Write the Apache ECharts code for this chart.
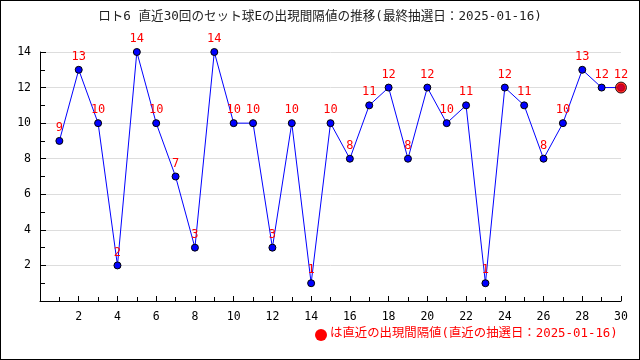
<!DOCTYPE html>
<html><head><meta charset="utf-8">
<script src="https://cdn.jsdelivr.net/npm/echarts@6/dist/echarts.min.js"></script>
<style>html,body{margin:0;padding:0;background:#fff}#c{width:638px;height:358px;border:1px solid #000}</style>
</head><body><div id="c"></div>
<script>
const titleText = 'ロト6 直近30回のセット球Eの出現間隔値の推移(最終抽選日：2025-01-16)';
const footText = 'は直近の出現間隔値(直近の抽選日：2025-01-16)';
const draws = [1,2,3,4,5,6,7,8,9,10,11,12,13,14,15,16,17,18,19,20,21,22,23,24,25,26,27,28,29,30];
const intervals = [9,13,10,2,14,10,7,3,14,10,10,3,10,1,10,8,11,12,8,12,10,11,1,12,11,8,10,13,12,12];

const font = '"DejaVu Sans Mono", "Noto Sans CJK JP", monospace';
const pts = draws.map((d,i)=>[d, intervals[i]]);
const last = pts[pts.length-1];

const chart = echarts.init(document.getElementById('c'));
chart.setOption({
  animation:false,
  title:{text:titleText,left:'center',top:4,textStyle:{fontFamily:font,fontSize:12.6,fontWeight:'normal',color:'#222'}},
  grid:{left:39,right:18,top:51,bottom:58},
  xAxis:{type:'value',min:0,max:30,interval:2,
    axisLine:{lineStyle:{color:'#000'}},
    axisTick:{inside:true,length:5,lineStyle:{color:'#000'}},
    minorTick:{show:true,splitNumber:2,length:4,lineStyle:{color:'#000'}},
    axisLabel:{fontFamily:font,fontSize:11.5,color:'#000',margin:10,formatter:v=>v===0?'':v},
    splitLine:{show:false}},
  yAxis:{type:'value',min:0,max:14,interval:2,
    axisLine:{show:true,lineStyle:{color:'#000'}},
    axisTick:{show:true,inside:true,length:6,lineStyle:{color:'#000'}},
    minorTick:{show:true,splitNumber:2,length:5,lineStyle:{color:'#000'}},
    axisLabel:{fontFamily:font,fontSize:11.5,color:'#000',margin:9,formatter:v=>v===0?'':v},
    splitLine:{show:true,lineStyle:{color:'#ddd'}}},
  series:[
    {type:'line',data:pts,symbol:'circle',symbolSize:7,
      lineStyle:{color:'#0000ff',width:1},
      itemStyle:{color:'#0000ff',borderColor:'#000',borderWidth:1},
      label:{show:true,position:'top',distance:3,color:'#ff0000',fontFamily:font,fontSize:12}},
    {type:'scatter',data:[last],symbol:'circle',symbolSize:11,z:5,
      itemStyle:{color:'#ff0000',borderColor:'#000',borderWidth:1}}
  ],
  graphic:[
    {type:'circle',shape:{cx:320,cy:334,r:6},style:{fill:'#ff0000'}},
    {type:'text',left:329,top:327,style:{text:footText,fill:'#ff0000',font:'12.4px '+font}}
  ]
});
</script></body></html>
